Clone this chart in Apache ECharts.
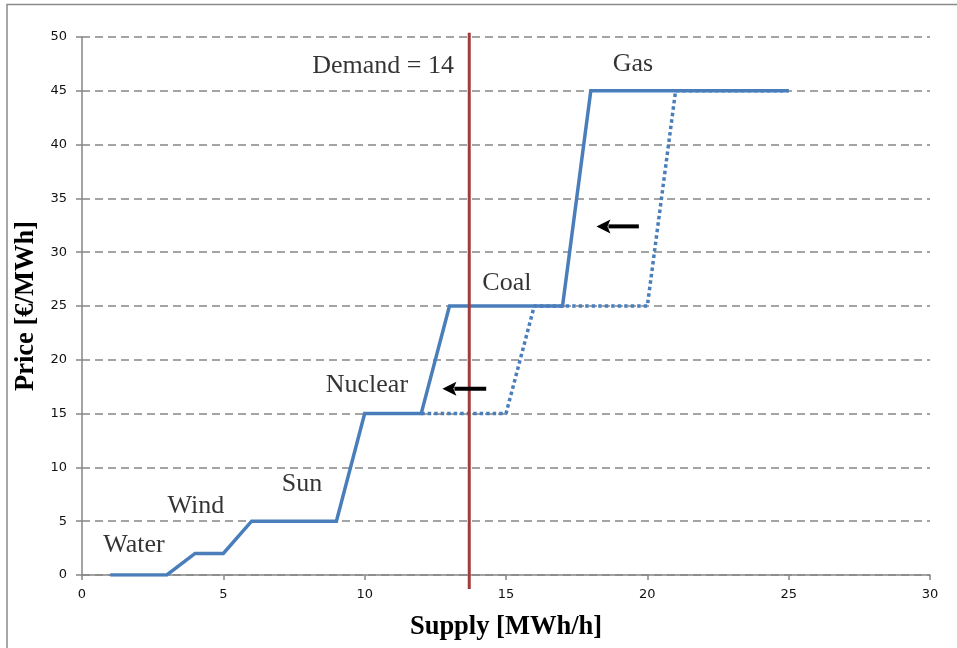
<!DOCTYPE html>
<html>
<head>
<meta charset="utf-8">
<script src="https://cdn.jsdelivr.net/npm/echarts@6/dist/echarts.min.js"></script>
<style>html,body{margin:0;padding:0;background:#fff}#c{width:957px;height:648px}</style>
</head>
<body>
<div id="c"></div>
<script>
// Supply curve (current) and shifted (previous) supply curve
var supplyX = [1, 3, 4, 5, 6, 9, 10, 12, 13, 17, 18, 25];
var supplyY = [0, 0, 2, 2, 5, 5, 15, 15, 25, 25, 45, 45];
var oldSupplyX = [12, 15, 16, 17, 20, 21, 25];
var oldSupplyY = [15, 15, 25, 25, 25, 45, 45];
// Demand line
var demandX = [13.7, 13.7];
var demandY = [-1.3, 50.4];
// Arrows [fromX, toX, y]
var arrowFromX = [19.7, 14.3];
var arrowToX = [18.2, 12.75];
var arrowY = [32.4, 17.3];
// Annotations
var labelTexts = ['Demand = 14', 'Gas', 'Coal', 'Nuclear', 'Sun', 'Wind', 'Water'];
var labelX = [10.65, 19.49, 15.03, 10.08, 7.78, 4.03, 1.84];
var labelY = [47.3, 47.5, 27.1, 17.66, 8.46, 6.41, 2.79];
// Axis ticks
var xTicks = [0, 5, 10, 15, 20, 25, 30];
var yTicks = [0, 5, 10, 15, 20, 25, 30, 35, 40, 45, 50];

function zip(a, b) { return a.map(function (v, i) { return [v, b[i]]; }); }

var chart = echarts.init(document.getElementById('c'), null, {renderer: 'canvas'});
var serif = '"Liberation Serif", "Times New Roman", serif';
var sans = '"DejaVu Sans", Verdana, sans-serif';

chart.setOption({
  animation: false,
  backgroundColor: '#fff',
  grid: {left: 82, right: 27, top: 37, bottom: 73, containLabel: false},
  graphic: [{
    type: 'rect', z: -10, silent: true,
    shape: {x: 7, y: 4.5, width: 970, height: 680},
    style: {fill: 'none', stroke: '#8a8a8a', lineWidth: 1.5}
  }],
  xAxis: {
    type: 'value', min: xTicks[0], max: xTicks[xTicks.length - 1], interval: 5,
    name: 'Supply [MWh/h]', nameLocation: 'middle', nameGap: 39,
    nameTextStyle: {fontFamily: serif, fontWeight: 'bold', fontSize: 26.5, color: '#000'},
    axisLine: {show: true, onZero: false, lineStyle: {color: '#868686', width: 1.5}},
    axisTick: {show: true, inside: false, length: 5, lineStyle: {color: '#868686', width: 1.5}},
    axisLabel: {margin: 13, fontFamily: sans, fontSize: 13, color: '#111'},
    splitLine: {show: false}
  },
  yAxis: {
    type: 'value', min: yTicks[0], max: yTicks[yTicks.length - 1], interval: 5,
    name: 'Price [€/MWh]', nameLocation: 'middle', nameGap: 40, nameRotate: 90,
    nameTextStyle: {fontFamily: serif, fontWeight: 'bold', fontSize: 26.5, color: '#000'},
    axisLine: {show: true, onZero: false, lineStyle: {color: '#868686', width: 1.5}},
    axisTick: {show: true, inside: false, length: 6, lineStyle: {color: '#868686', width: 1.5}},
    axisLabel: {margin: 15, fontFamily: sans, fontSize: 13, color: '#111'},
    splitLine: {show: true, lineStyle: {color: '#868686', width: 1.5, type: [8, 5]}}
  },
  series: [
    {
      type: 'line', name: 'old', data: zip(oldSupplyX, oldSupplyY), symbol: 'none', z: 3,
      lineStyle: {color: '#4a7ebb', width: 3.5, type: [3.5, 3]}
    },
    {
      type: 'line', name: 'supply', data: zip(supplyX, supplyY), symbol: 'none', z: 4,
      lineStyle: {color: '#4a7ebb', width: 3.5, cap: 'butt', join: 'miter'}
    },
    {
      type: 'line', name: 'demand', data: zip(demandX, demandY), symbol: 'none', z: 5, clip: false,
      lineStyle: {color: '#a23c3c', width: 3}
    },
    {
      type: 'custom', name: 'arrows', z: 6, clip: false,
      data: arrowFromX.map(function (v, i) { return [v, arrowToX[i], arrowY[i]]; }),
      renderItem: function (params, api) {
        var p0 = api.coord([api.value(0), api.value(2)]);
        var p1 = api.coord([api.value(1), api.value(2)]);
        var head = 14, half = 7;
        return {
          type: 'group',
          children: [
            {type: 'line', shape: {x1: p0[0], y1: p0[1], x2: p1[0] + head - 2, y2: p1[1]},
              style: {stroke: '#000', lineWidth: 4}},
            {type: 'polygon', shape: {points: [[p1[0], p1[1]], [p1[0] + head, p1[1] - half], [p1[0] + head - 3, p1[1]], [p1[0] + head, p1[1] + half]]},
              style: {fill: '#000'}}
          ]
        };
      }
    },
    {
      type: 'scatter', name: 'labels', z: 7, symbolSize: 0, silent: true,
      itemStyle: {color: 'transparent'},
      data: labelTexts.map(function (t, i) { return {value: [labelX[i], labelY[i]], name: t}; }),
      label: {
        show: true, position: 'inside', formatter: '{b}',
        fontFamily: serif, fontSize: 26, color: '#000',
        textBorderWidth: 0, textBorderColor: 'transparent'
      }
    }
  ]
});
</script>
</body>
</html>
